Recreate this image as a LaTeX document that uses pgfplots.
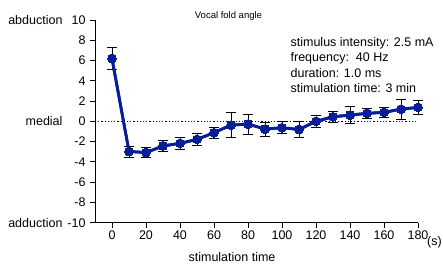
\documentclass[border=0pt]{standalone}
\usepackage{pgfplots}
\pgfplotsset{compat=1.18}
\usepackage{fontspec}
\setmainfont{Liberation Sans}
\definecolor{myblue}{RGB}{8,30,150}
\pgfplotstableread{
x y e
0 6.2 1.1
10 -2.97 0.54
20 -3.08 0.47
30 -2.43 0.57
40 -2.17 0.6
50 -1.78 0.62
60 -1.12 0.53
70 -0.37 1.22
80 -0.27 0.98
90 -0.76 0.7
100 -0.63 0.6
110 -0.8 0.8
120 0.0 0.6
130 0.45 0.55
140 0.62 0.87
150 0.79 0.5
160 0.89 0.46
170 1.2 0.97
180 1.38 0.66
}\datatable
\begin{document}
\begin{tikzpicture}
\path[use as bounding box] (-95pt,-41.3pt) rectangle (348pt,222.7pt);
\begin{axis}[
  scale only axis,
  width=323pt, height=202.7pt,
  anchor=south west, at={(0,0)},
  xmin=-10, xmax=180, ymin=-10, ymax=10,
  axis lines*=left,
  axis line style={black, line width=0.8pt},
  xtick={0,20,...,180}, ytick={-10,-8,...,10},
  tick align=outside, tick style={black, line width=0.8pt},
  major tick length=5pt,
  tick label style={font=\fontsize{12.5}{14}\selectfont},
  /pgf/number format/assume math mode=true,
  yticklabel style={xshift=-1pt},
  clip=false,
]
\addplot[black, dotted, line width=1.2pt, forget plot] coordinates {(-10,0) (180,0)};
\addplot[myblue, line width=2.8pt, mark=*, mark size=4.4pt,
  mark options={fill=myblue, draw=myblue, line width=0pt},
  error bars/.cd, y dir=both, y explicit,
  error bar style={black, line width=0.8pt},
  error mark options={black, rotate=90, mark size=5pt, line width=0.8pt}]
  table[x=x, y=y, y error=e] {\datatable};
\addplot[myblue, line width=2.8pt, mark=*, mark size=4.4pt,
  mark options={fill=myblue, draw=myblue, line width=0pt}]
  table[x=x, y=y] {\datatable};
\node[anchor=east, font=\fontsize{12.5}{14}\selectfont] at ([xshift=-29pt]axis cs:-10,10) {abduction};
\node[anchor=east, font=\fontsize{12.5}{14}\selectfont] at ([xshift=-29pt]axis cs:-10,0) {medial};
\node[anchor=east, font=\fontsize{12.5}{14}\selectfont] at ([xshift=-29pt]axis cs:-10,-10) {adduction};
\node[anchor=west, inner sep=1pt, font=\fontsize{12.5}{14}\selectfont] at ([xshift=8pt,yshift=-20pt]axis cs:180,-10) {(s)};
\node[font=\fontsize{12.5}{14}\selectfont] at ([yshift=-34pt]axis cs:70.6,-10) {stimulation time};
\node[font=\fontsize{9.5}{11}\selectfont] at ([yshift=4pt]axis cs:68.5,10) {Vocal fold angle};
\node[anchor=west, font=\fontsize{12.5}{15.3}\selectfont, align=left] at ([yshift=-45pt]axis cs:103,10)
  {stimulus intensity: 2.5 mA\\frequency:\ \ 40 Hz\\duration: 1.0 ms\\stimulation time: 3 min};
\end{axis}
\end{tikzpicture}
\end{document}
